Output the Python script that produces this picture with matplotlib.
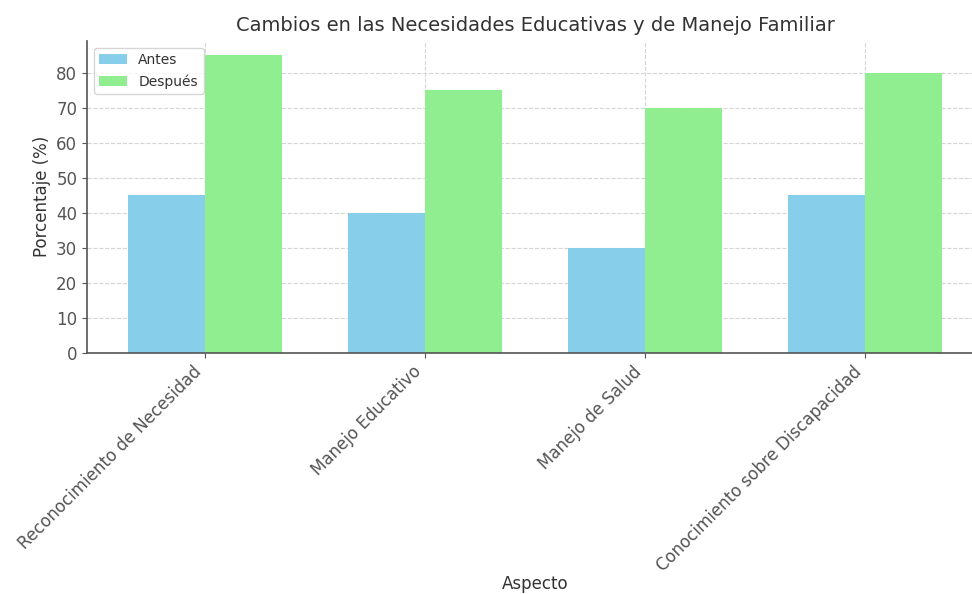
import numpy as np
import matplotlib.pyplot as plt

# -----------------------------
# Data
# -----------------------------
aspectos = [
    "Reconocimiento de Necesidad",
    "Manejo Educativo",
    "Manejo de Salud",
    "Conocimiento sobre Discapacidad",
]
antes = [45, 40, 30, 45]
despues = [85, 75, 70, 80]

# -----------------------------
# Plot
# -----------------------------
x = np.arange(len(aspectos))
width = 0.35

fig = plt.figure(figsize=(9.72, 5.94), dpi=100)
# axes runs past the right edge, the reference is cropped there
ax = fig.add_axes([0.0895, 0.4057, 0.9218, 0.526])

ax.bar(x - width / 2, antes, width, label="Antes", color="skyblue", zorder=2)
ax.bar(x + width / 2, despues, width, label="Después", color="lightgreen", zorder=2)

text_col = "#333333"
ax.set_title("Cambios en las Necesidades Educativas y de Manejo Familiar",
             fontsize=14, color=text_col, pad=7)
ax.set_xlabel("Aspecto", fontsize=12, color=text_col, labelpad=0)
ax.set_ylabel("Porcentaje (%)", fontsize=12, color=text_col)
ax.set_xticks(x)
ax.set_xticklabels(aspectos, rotation=45, ha="right", fontsize=12, color=text_col)
ax.tick_params(axis="y", labelsize=12, labelcolor=text_col)
ax.tick_params(colors="#555555")

ax.grid(True, linestyle="--", color="#d5d5d5", linewidth=0.8, zorder=0)
ax.set_axisbelow(True)
ax.spines["top"].set_visible(False)
ax.spines["right"].set_visible(False)
for s in ("left", "bottom"):
    ax.spines[s].set_color("#555555")
    ax.spines[s].set_linewidth(1.2)

ax.legend(loc="upper left", fontsize=10, labelcolor=text_col)

fig.savefig("out.png", dpi=100)
